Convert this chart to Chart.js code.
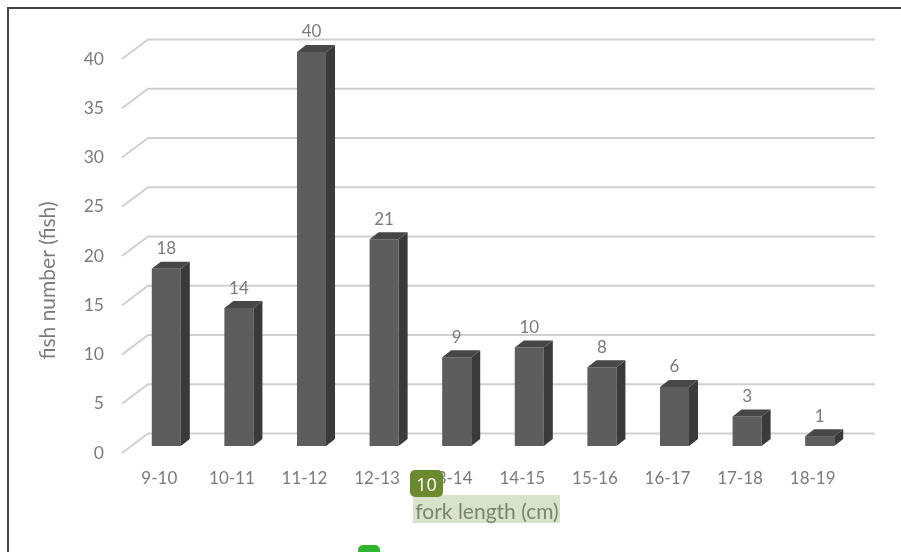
<!DOCTYPE html>
<html><head><meta charset="utf-8">
<style>
html,body{margin:0;padding:0;background:#fff;width:901px;height:552px;overflow:hidden;font-family:Lato,sans-serif}
#wrap{position:relative;width:901px;height:552px}
canvas{position:absolute;left:0;top:0;filter:blur(.5px)}
.frame{position:absolute;left:7px;top:7px;width:894px;height:545px;border-left:2px solid #444;border-top:2px solid #444;box-sizing:border-box}
.hl{position:absolute;left:413px;top:495px;width:147px;height:28px;background:rgba(125,155,75,.29)}
.badge{position:absolute;left:410px;top:470px;width:33px;height:27px;border-radius:5px;background:#6b8a2f;color:#fff;font:18px/29px "Open Sans",sans-serif;text-align:center}
.stub{position:absolute;left:358px;top:545px;width:22px;height:12px;border-radius:5px 5px 0 0;background:#2fb52f}
</style></head><body>
<div id="wrap">
<canvas id="c" width="901" height="552"></canvas>
<div class="frame"></div><div class="hl"></div><div class="badge">10</div><div class="stub"></div>
</div>
<script src="https://cdn.jsdelivr.net/npm/chart.js@4"></script>
<script>
const categories = ["9-10","10-11","11-12","12-13","13-14","14-15","15-16","16-17","17-18","18-19"];
const fishCounts = [18,14,40,21,9,10,8,6,3,1];
const yTickValues = [0,5,10,15,20,25,30,35,40];
const xAxisTitle = "fork length (cm)";
const yAxisTitle = "fish number (fish)";

const TEXT = "#7b7b7b", FRONT = "#5d5d5d", SIDE = "#3a3a3a", TOP = "#474747", GRID = "#d0d0d0";
const DX = 9, DY = 7;

const solidBars = {
  id: "solidBars",
  afterLayout(chart) {
    // centre the axis titles where the reference places them
    const {x, y} = chart.scales;
    y.top = 115;
    x.right = 844;
  },
  beforeDatasetsDraw(chart) {
    const {ctx, scales:{y}} = chart;
    ctx.save();
    ctx.strokeStyle = GRID; ctx.lineWidth = 2;
    yTickValues.forEach(v => {
      const p = y.getPixelForValue(v);
      ctx.beginPath();
      ctx.moveTo(122, p + 7);
      ctx.lineTo(148, p - 12.5);
      ctx.lineTo(875, p - 12.5);
      ctx.stroke();
    });
    ctx.restore();
  },
  afterDatasetsDraw(chart) {
    const {ctx} = chart;
    const meta = chart.getDatasetMeta(0);
    ctx.save();
    meta.data.forEach((b, i) => {
      const l = b.x - b.width/2, r = b.x + b.width/2, t = b.y, bt = b.base;
      ctx.fillStyle = SIDE;
      ctx.beginPath();
      ctx.moveTo(r, t); ctx.lineTo(r+DX, t-DY); ctx.lineTo(r+DX, bt-DY); ctx.lineTo(r, bt);
      ctx.closePath(); ctx.fill();
      ctx.fillStyle = TOP;
      ctx.beginPath();
      ctx.moveTo(l, t); ctx.lineTo(l+DX, t-DY); ctx.lineTo(r+DX, t-DY); ctx.lineTo(r, t);
      ctx.closePath(); ctx.fill();
      ctx.fillStyle = TEXT;
      ctx.font = "17px Lato";
      ctx.textAlign = "center"; ctx.textBaseline = "middle";
      ctx.fillText(String(fishCounts[i]), b.x, t - 20);
    });
    ctx.restore();
  }
};

new Chart(document.getElementById("c"), {
  type: "bar",
  data: { labels: categories, datasets: [{ label: "fish", data: fishCounts, backgroundColor: FRONT, barPercentage: 0.4, categoryPercentage: 1, clip: false }] },
  plugins: [solidBars],
  options: {
    responsive: false, animation: false, devicePixelRatio: 1,
    layout: { padding: { left: 36, right: 45, top: 52, bottom: 27 } },
    plugins: { legend: {display:false}, tooltip: {enabled:false}, title:{display:false} },
    scales: {
      x: {
        grid: {display:false, drawTicks:false}, border:{display:false},
        ticks: { color: TEXT, font:{family:"Lato", size:17}, padding: 22, maxRotation:0, autoSkip:false, labelOffset: -7 },
        title: { display:true, text:xAxisTitle, color:TEXT, font:{family:"Lato", size:21}, padding:0 },
        afterFit(s){ s.height = 79; }
      },
      y: {
        min: 0, max: 40,
        grid: {display:false, drawTicks:false}, border:{display:false},
        afterBuildTicks(s){ s.ticks = yTickValues.map(value => ({value})); },
        ticks: { color: TEXT, font:{family:"Lato", size:17.5}, padding: 26, labelOffset: 7 },
        title: { display:true, text:yAxisTitle, color:TEXT, font:{family:"Lato", size:21}, padding:0 },
        afterFit(s){ s.width = 94; }
      }
    }
  }
});
</script>
</body></html>
